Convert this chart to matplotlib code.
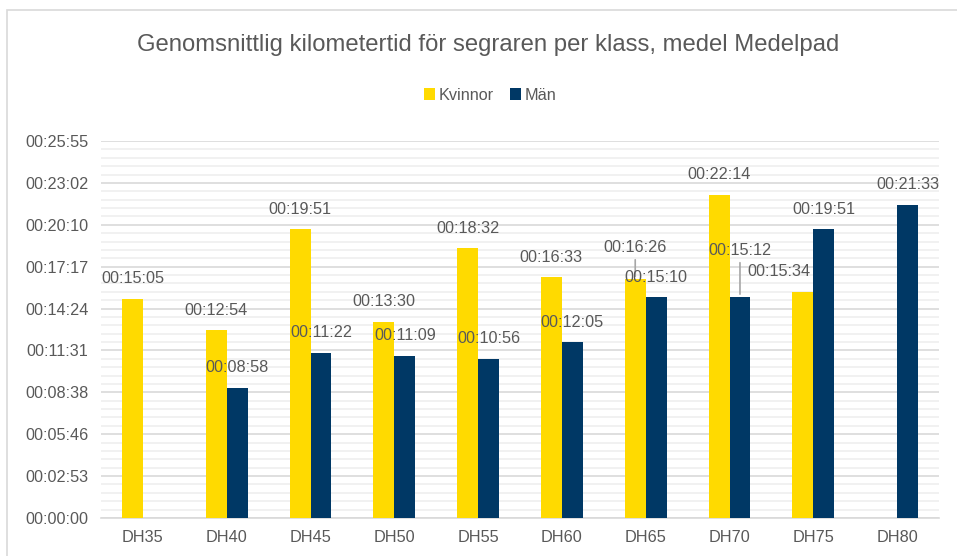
import matplotlib.pyplot as plt
import numpy as np
from matplotlib.patches import Rectangle
from matplotlib.ticker import MultipleLocator, FuncFormatter

plt.rcParams['font.family'] = ['Liberation Sans', 'DejaVu Sans']

# times in seconds, None = no bar
classes = ['DH35', 'DH40', 'DH45', 'DH50', 'DH55', 'DH60', 'DH65', 'DH70', 'DH75', 'DH80']
kvinnor = [905, 774, 1191, 810, 1112, 993, 986, 1334, 934, None]
man = [None, 538, 682, 669, 656, 725, 910, 912, 1191, 1293]

YELLOW = '#FFDA00'
NAVY = '#003865'
TXT = '#595959'
FS = 11.7

# Excel axis unit: 0.002 days
major = 172.8


def hms(s, pos=None):
    s = int(round(s))
    return '%02d:%02d:%02d' % (s // 3600, (s % 3600) // 60, s % 60)


fig = plt.figure(figsize=(9.57, 5.56), dpi=100)
fig.patches.append(Rectangle((7 / 957, -0.1), 1.2, 1 - 10 / 556 + 0.1, transform=fig.transFigure,
                             fill=False, edgecolor='#d9d9d9', linewidth=1.2))
ax = fig.add_axes([101 / 957, 38 / 556, 838 / 957, 377 / 556])

x = np.arange(len(classes))
w = 0.25
kv = [np.nan if v is None else v for v in kvinnor]
mv = [np.nan if v is None else v for v in man]
ax.bar(x - w / 2, kv, w, color=YELLOW, label='Kvinnor', zorder=3)
ax.bar(x + w / 2, mv, w, color=NAVY, label='Män', zorder=3)

# data labels (offsets in pixels); a few moved like in Excel, with leader lines
moved = {(6, 0): (0, 31), (7, 1): (0, 46), (8, 0): (-24, 20)}
for i in range(len(classes)):
    for j, vals in enumerate([kvinnor, man]):
        v = vals[i]
        if v is None:
            continue
        xp = x[i] + (j - 0.5) * w
        dx, dy = moved.get((i, j), (0, 20))
        ax.annotate(hms(v), (xp, v), xytext=(dx, dy), textcoords='offset pixels',
                    ha='center', va='center', fontsize=FS, color=TXT, zorder=5)
        if dy > 25:
            ax.annotate('', (xp, v), xytext=(dx, dy - 9), textcoords='offset pixels',
                        arrowprops=dict(arrowstyle='-', color='#a6a6a6', lw=1.2), zorder=4)

ax.set_xlim(-0.5, len(classes) - 0.5)
ax.set_ylim(0, 9 * major)
ax.yaxis.set_major_locator(MultipleLocator(major))
ax.yaxis.set_minor_locator(MultipleLocator(major / 5))
ax.yaxis.set_major_formatter(FuncFormatter(hms))
ax.set_xticks(x)
ax.set_xticklabels(classes)
ax.grid(axis='y', which='major', color='#d9d9d9', linewidth=1.2, zorder=0)
ax.grid(axis='y', which='minor', color='#efefef', linewidth=1.2, zorder=0)
ax.tick_params(axis='both', which='both', length=0, labelsize=FS, labelcolor=TXT)
ax.tick_params(axis='y', pad=9)
ax.tick_params(axis='x', pad=9)
for s in ['top', 'right', 'left']:
    ax.spines[s].set_visible(False)
ax.spines['bottom'].set_color('#d9d9d9')
ax.spines['bottom'].set_linewidth(1.2)

fig.text(488 / 957, 1 - 45 / 556, 'Genomsnittlig kilometertid för segraren per klass, medel Medelpad',
         ha='center', va='center', fontsize=17.2, color=TXT)
fig.legend(loc='center', bbox_to_anchor=(490 / 957, 1 - 95 / 556), ncol=2, frameon=False,
           fontsize=FS, labelcolor=TXT, handlelength=0.7, handleheight=0.7,
           handletextpad=0.2, columnspacing=1.0)

fig.savefig('out.png', dpi=100)
